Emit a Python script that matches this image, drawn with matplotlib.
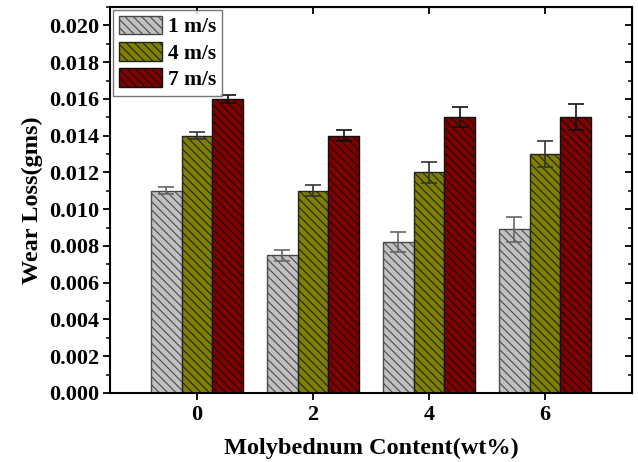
import matplotlib
matplotlib.use('Agg')
import matplotlib.pyplot as plt
import numpy as np
from matplotlib.ticker import MultipleLocator

# data
content = [0, 2, 4, 6]
speeds = ['1 m/s', '4 m/s', '7 m/s']
loss_1 = [0.0110, 0.0075, 0.0082, 0.0089]
loss_4 = [0.0140, 0.0110, 0.0120, 0.0130]
loss_7 = [0.0160, 0.0140, 0.0150, 0.0150]
err_1 = [0.0002, 0.0003, 0.00055, 0.0007]
err_4 = [0.0002, 0.0003, 0.00055, 0.0007]
err_7 = [0.0002, 0.0003, 0.00055, 0.0007]

plt.rcParams['font.family'] = ['Liberation Serif', 'DejaVu Serif']
plt.rcParams['font.weight'] = 'bold'
plt.rcParams['hatch.linewidth'] = 0.8

fig = plt.figure(figsize=(6.38, 4.62), dpi=100)
ax = fig.add_axes([0.1724, 0.1494, 0.8182, 0.8354])

w = 1.6 / 3
x = np.array(content, dtype=float)
colors = ['#c0c0c0', '#808000', '#800000']
edges = ['#4a4a4a', '#222222', '#111111']
ecols = ['#666666', '#333333', '#111111']
datas = (loss_1, loss_4, loss_7)
errs = (err_1, err_4, err_7)
for i, (data, err) in enumerate(zip(datas, errs)):
    ax.bar(x + (i - 1) * w, data, width=w, color=colors[i], edgecolor=edges[i],
           hatch='\\\\\\\\', linewidth=1.0, label=speeds[i],
           yerr=err, capsize=6,
           error_kw=dict(ecolor=ecols[i], elinewidth=1.2, capthick=1.2))

ax.set_xlim(-1.5, 7.5)
ax.set_ylim(0, 0.021)
ax.set_xticks(content)
ax.yaxis.set_major_locator(MultipleLocator(0.002))
ax.yaxis.set_minor_locator(MultipleLocator(0.001))
ax.yaxis.set_major_formatter(plt.FormatStrFormatter('%.3f'))

for s in ax.spines.values():
    s.set_linewidth(1.5)

ax.tick_params(axis='both', which='major', length=5, width=1.3, labelsize=16)
ax.tick_params(axis='both', which='minor', length=3, width=1.1)
ax.tick_params(axis='x', pad=4)
ax.tick_params(axis='y', pad=3)

# mirrored inward ticks on top and right
axr = ax.secondary_yaxis('right')
axr.yaxis.set_major_locator(MultipleLocator(0.002))
axr.yaxis.set_minor_locator(MultipleLocator(0.001))
axr.tick_params(which='major', direction='in', length=5, width=1.3, labelright=False)
axr.tick_params(which='minor', direction='in', length=3, width=1.1)
axt = ax.secondary_xaxis('top')
axt.set_xticks(content)
axt.tick_params(direction='in', length=5, width=1.3, labeltop=False)

ax.set_xlabel('Molybednum Content(wt%)', fontsize=17.5, fontweight='bold', labelpad=9)
ax.set_ylabel('Wear Loss(gms)', fontsize=17.5, fontweight='bold', labelpad=4)

leg = ax.legend(loc='upper left', fontsize=15.5, frameon=True, fancybox=False,
                handlelength=2.0, handleheight=0.95, borderpad=0.25,
                labelspacing=0.22, handletextpad=0.3, borderaxespad=0.15)
leg.get_frame().set_edgecolor('#555555')
leg.get_frame().set_linewidth(1.0)

fig.savefig('out.png', dpi=100)
